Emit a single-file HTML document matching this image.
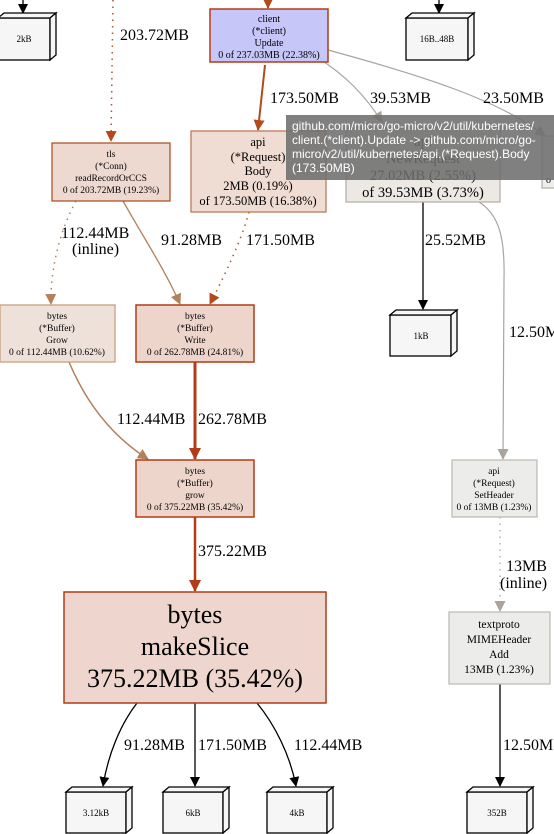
<!DOCTYPE html>
<html><head><meta charset="utf-8"><style>
html,body{margin:0;padding:0;background:#fff;}
svg{display:block;}
</style></head><body>
<svg width="554" height="834" viewBox="0 0 554 834" xmlns="http://www.w3.org/2000/svg" font-family="Liberation Serif, serif">
<defs>
<marker id="ab" markerWidth="10" markerHeight="10" refX="9" refY="5" orient="auto" markerUnits="userSpaceOnUse"><path d="M0,0 L10,5 L0,10 z" fill="#000"/></marker>
<marker id="ar" markerWidth="12" markerHeight="12" refX="11" refY="6" orient="auto" markerUnits="userSpaceOnUse"><path d="M0,0 L12,6 L0,12 z" fill="#b23c17"/></marker>
<marker id="ao" markerWidth="11" markerHeight="11" refX="10" refY="5.5" orient="auto" markerUnits="userSpaceOnUse"><path d="M0,0 L11,5.5 L0,11 z" fill="#b24a1e"/></marker>
<marker id="at" markerWidth="11" markerHeight="11" refX="10" refY="5.5" orient="auto" markerUnits="userSpaceOnUse"><path d="M0,0 L11,5.5 L0,11 z" fill="#b4805a"/></marker>
<marker id="ag" markerWidth="11" markerHeight="11" refX="10" refY="5.5" orient="auto" markerUnits="userSpaceOnUse"><path d="M0,0 L11,5.5 L0,11 z" fill="#aaa49c"/></marker>
</defs>

<path d="M113,0 L111,141" stroke="#b0542a" stroke-width="1.5" stroke-dasharray="1.5,5" fill="none" marker-end="url(#ao)"/>
<path d="M265,65 L258,130" stroke="#b24a1e" stroke-width="2" fill="none" marker-end="url(#ao)"/>
<path d="M318,58 C345,75 365,95 382,122" stroke="#aaa49c" stroke-width="1.2" fill="none" marker-end="url(#ag)"/>
<path d="M328,50 C420,75 500,100 545,136" stroke="#aaa49c" stroke-width="1.2" fill="none" marker-end="url(#ag)"/>
<path d="M76,201 C60,230 50,270 51,304" stroke="#b4805a" stroke-width="1.5" stroke-dasharray="1.5,5" fill="none" marker-end="url(#at)"/>
<path d="M123,201 C145,240 165,270 180,304" stroke="#b4805a" stroke-width="1.3" fill="none" marker-end="url(#at)"/>
<path d="M249,212 C240,245 222,280 210,304" stroke="#b0542a" stroke-width="1.5" stroke-dasharray="1.5,5" fill="none" marker-end="url(#ao)"/>
<path d="M195,362 L195,459" stroke="#b23c17" stroke-width="3" fill="none" marker-end="url(#ar)"/>
<path d="M69,362 C85,400 110,435 148,459" stroke="#b4805a" stroke-width="1.5" fill="none" marker-end="url(#at)"/>
<path d="M195,517 L195,591" stroke="#b23c17" stroke-width="2.5" fill="none" marker-end="url(#ar)"/>
<path d="M423,202 L423,309" stroke="#000" stroke-width="1.3" fill="none" marker-end="url(#ab)"/>
<path d="M479,202 C500,215 505,240 504,280 L503,459" stroke="#aaa49c" stroke-width="1.2" fill="none" marker-end="url(#ag)"/>
<path d="M500,517 L500,611" stroke="#aaa49c" stroke-width="1.3" stroke-dasharray="1.5,5" fill="none" marker-end="url(#ag)"/>
<path d="M500,684 L500,786" stroke="#000" stroke-width="1.3" fill="none" marker-end="url(#ab)"/>
<path d="M137,703 C120,725 108,755 103,786" stroke="#000" stroke-width="1.3" fill="none" marker-end="url(#ab)"/>
<path d="M195,703 L195,786" stroke="#000" stroke-width="1.3" fill="none" marker-end="url(#ab)"/>
<path d="M257,703 C275,725 290,755 296,786" stroke="#000" stroke-width="1.3" fill="none" marker-end="url(#ab)"/>
<path d="M23,0 L23,13" stroke="#000" stroke-width="1.3" fill="none" marker-end="url(#ab)"/>
<path d="M439,0 L439,13" stroke="#000" stroke-width="1.3" fill="none" marker-end="url(#ab)"/>
<path d="M268,0 L268,8" stroke="#b24a1e" stroke-width="2" fill="none" marker-end="url(#ao)"/>

<g font-size="16" fill="#000" font-family="Liberation Serif, serif">
<text x="120" y="40">203.72MB</text>
<text x="270" y="103">173.50MB</text>
<text x="370" y="103">39.53MB</text>
<text x="483" y="103">23.50MB</text>
<text x="61" y="238">112.44MB</text>
<text x="72" y="254">(inline)</text>
<text x="161" y="245">91.28MB</text>
<text x="246" y="245">171.50MB</text>
<text x="425" y="245">25.52MB</text>
<text x="509" y="337">12.50M</text>
<text x="117" y="424">112.44MB</text>
<text x="198" y="424">262.78MB</text>
<text x="198" y="556">375.22MB</text>
<text x="506" y="571">13MB</text>
<text x="500" y="588">(inline)</text>
<text x="124" y="750">91.28MB</text>
<text x="198" y="750">171.50MB</text>
<text x="294" y="750">112.44MB</text>
<text x="503" y="750">12.50M</text>
</g>

<g stroke="#000" stroke-width="1.3" fill="#f6f6f6" font-size="9" text-anchor="middle">
<g><rect x="-2" y="18" width="52" height="42"/><polygon points="-2,18 4,13 56,13 50,18"/><polygon points="50,18 56,13 56,55 50,60"/><text x="24" y="42" stroke="none" fill="#000">2kB</text></g>
<g><rect x="406" y="18" width="62" height="42"/><polygon points="406,18 412,13 474,13 468,18"/><polygon points="468,18 474,13 474,55 468,60"/><text x="437" y="42" stroke="none" fill="#000">16B..48B</text></g>
<g><rect x="390" y="315" width="61" height="41"/><polygon points="390,315 396,310 457,310 451,315"/><polygon points="451,315 457,310 457,351 451,356"/><text x="421" y="339" stroke="none" fill="#000">1kB</text></g>
<g><rect x="66" y="792" width="60" height="41"/><polygon points="66,792 72,787 132,787 126,792"/><polygon points="126,792 132,787 132,828 126,833"/><text x="96" y="816" stroke="none" fill="#000">3.12kB</text></g>
<g><rect x="163" y="792" width="60" height="41"/><polygon points="163,792 169,787 229,787 223,792"/><polygon points="223,792 229,787 229,828 223,833"/><text x="193" y="816" stroke="none" fill="#000">6kB</text></g>
<g><rect x="267" y="792" width="60" height="41"/><polygon points="267,792 273,787 333,787 327,792"/><polygon points="327,792 333,787 333,828 327,833"/><text x="297" y="816" stroke="none" fill="#000">4kB</text></g>
<g><rect x="467" y="792" width="60" height="41"/><polygon points="467,792 473,787 533,787 527,792"/><polygon points="527,792 533,787 533,828 527,833"/><text x="497" y="816" stroke="none" fill="#000">352B</text></g>
</g>

<g text-anchor="middle" fill="#000">
<rect x="210" y="9" width="118" height="53" fill="#c6c6f8" stroke="#b23c17" stroke-width="1.5"/>
<g font-size="10"><text x="269" y="22">client</text><text x="269" y="34">(*client)</text><text x="269" y="46">Update</text><text x="269" y="58">0 of 237.03MB (22.38%)</text></g>

<rect x="52" y="143" width="118" height="58" fill="#eed9d0" stroke="#b0542a" stroke-width="1.3"/>
<g font-size="9.5"><text x="111" y="157">tls</text><text x="111" y="169">(*Conn)</text><text x="111" y="181">readRecordOrCCS</text><text x="111" y="193">0 of 203.72MB (19.23%)</text></g>

<rect x="191" y="131" width="135" height="81" fill="#efdcd2" stroke="#c07a58" stroke-width="1.3"/>
<g font-size="12.5"><text x="258" y="146">api</text><text x="258" y="161">(*Request)</text><text x="258" y="175">Body</text><text x="258" y="190">2MB (0.19%)</text><text x="258" y="205">of 173.50MB (16.38%)</text></g>

<rect x="346" y="128" width="154" height="74" fill="#ece8e4" stroke="#b8b0a8" stroke-width="1.3"/>
<g font-size="14.5"><text x="423" y="146">api</text><text x="423" y="163">NewRequest</text><text x="423" y="180">27.02MB (2.55%)</text><text x="423" y="197">of 39.53MB (3.73%)</text></g>

<rect x="542" y="136" width="20" height="52" fill="#eeeeec" stroke="#b8b0a8" stroke-width="1.3"/>
<text x="546" y="183" font-size="10" text-anchor="start">o</text>

<rect x="0" y="305" width="115" height="57" fill="#ede1da" stroke="#c8a080" stroke-width="1.3"/>
<g font-size="9.5"><text x="57" y="319">bytes</text><text x="57" y="331">(*Buffer)</text><text x="57" y="343">Grow</text><text x="57" y="355">0 of 112.44MB (10.62%)</text></g>

<rect x="136" y="305" width="118" height="57" fill="#eed5cc" stroke="#b23c17" stroke-width="1.5"/>
<g font-size="9.5"><text x="195" y="319">bytes</text><text x="195" y="331">(*Buffer)</text><text x="195" y="343">Write</text><text x="195" y="355">0 of 262.78MB (24.81%)</text></g>

<rect x="136" y="460" width="118" height="57" fill="#eed5cc" stroke="#b23c17" stroke-width="1.5"/>
<g font-size="9.5"><text x="195" y="474">bytes</text><text x="195" y="486">(*Buffer)</text><text x="195" y="498">grow</text><text x="195" y="510">0 of 375.22MB (35.42%)</text></g>

<rect x="452" y="460" width="85" height="57" fill="#ececea" stroke="#c0bcb6" stroke-width="1.3"/>
<g font-size="9.5"><text x="494" y="474">api</text><text x="494" y="486">(*Request)</text><text x="494" y="498">SetHeader</text><text x="494" y="510">0 of 13MB (1.23%)</text></g>

<rect x="64" y="592" width="262" height="111" fill="#eed6ce" stroke="#b23c17" stroke-width="1.5"/>
<g font-size="26"><text x="195" y="623">bytes</text><text x="195" y="655">makeSlice</text><text x="195" y="687">375.22MB (35.42%)</text></g>

<rect x="449" y="612" width="101" height="72" fill="#ececea" stroke="#c0bcb6" stroke-width="1.3"/>
<g font-size="11.5"><text x="499" y="628">textproto</text><text x="499" y="643">MIMEHeader</text><text x="499" y="658">Add</text><text x="499" y="673">13MB (1.23%)</text></g>
</g>

<rect x="286" y="115" width="270" height="65" fill="#6e6e6e" fill-opacity="0.88"/>
<g font-family="Liberation Sans, sans-serif" font-size="12" fill="#fff">
<text x="292" y="130">github.com/micro/go-micro/v2/util/kubernetes/</text>
<text x="292" y="144">client.(*client).Update -&gt; github.com/micro/go-</text>
<text x="292" y="158">micro/v2/util/kubernetes/api.(*Request).Body</text>
<text x="292" y="172">(173.50MB)</text>
</g>
</svg>
</body></html>
